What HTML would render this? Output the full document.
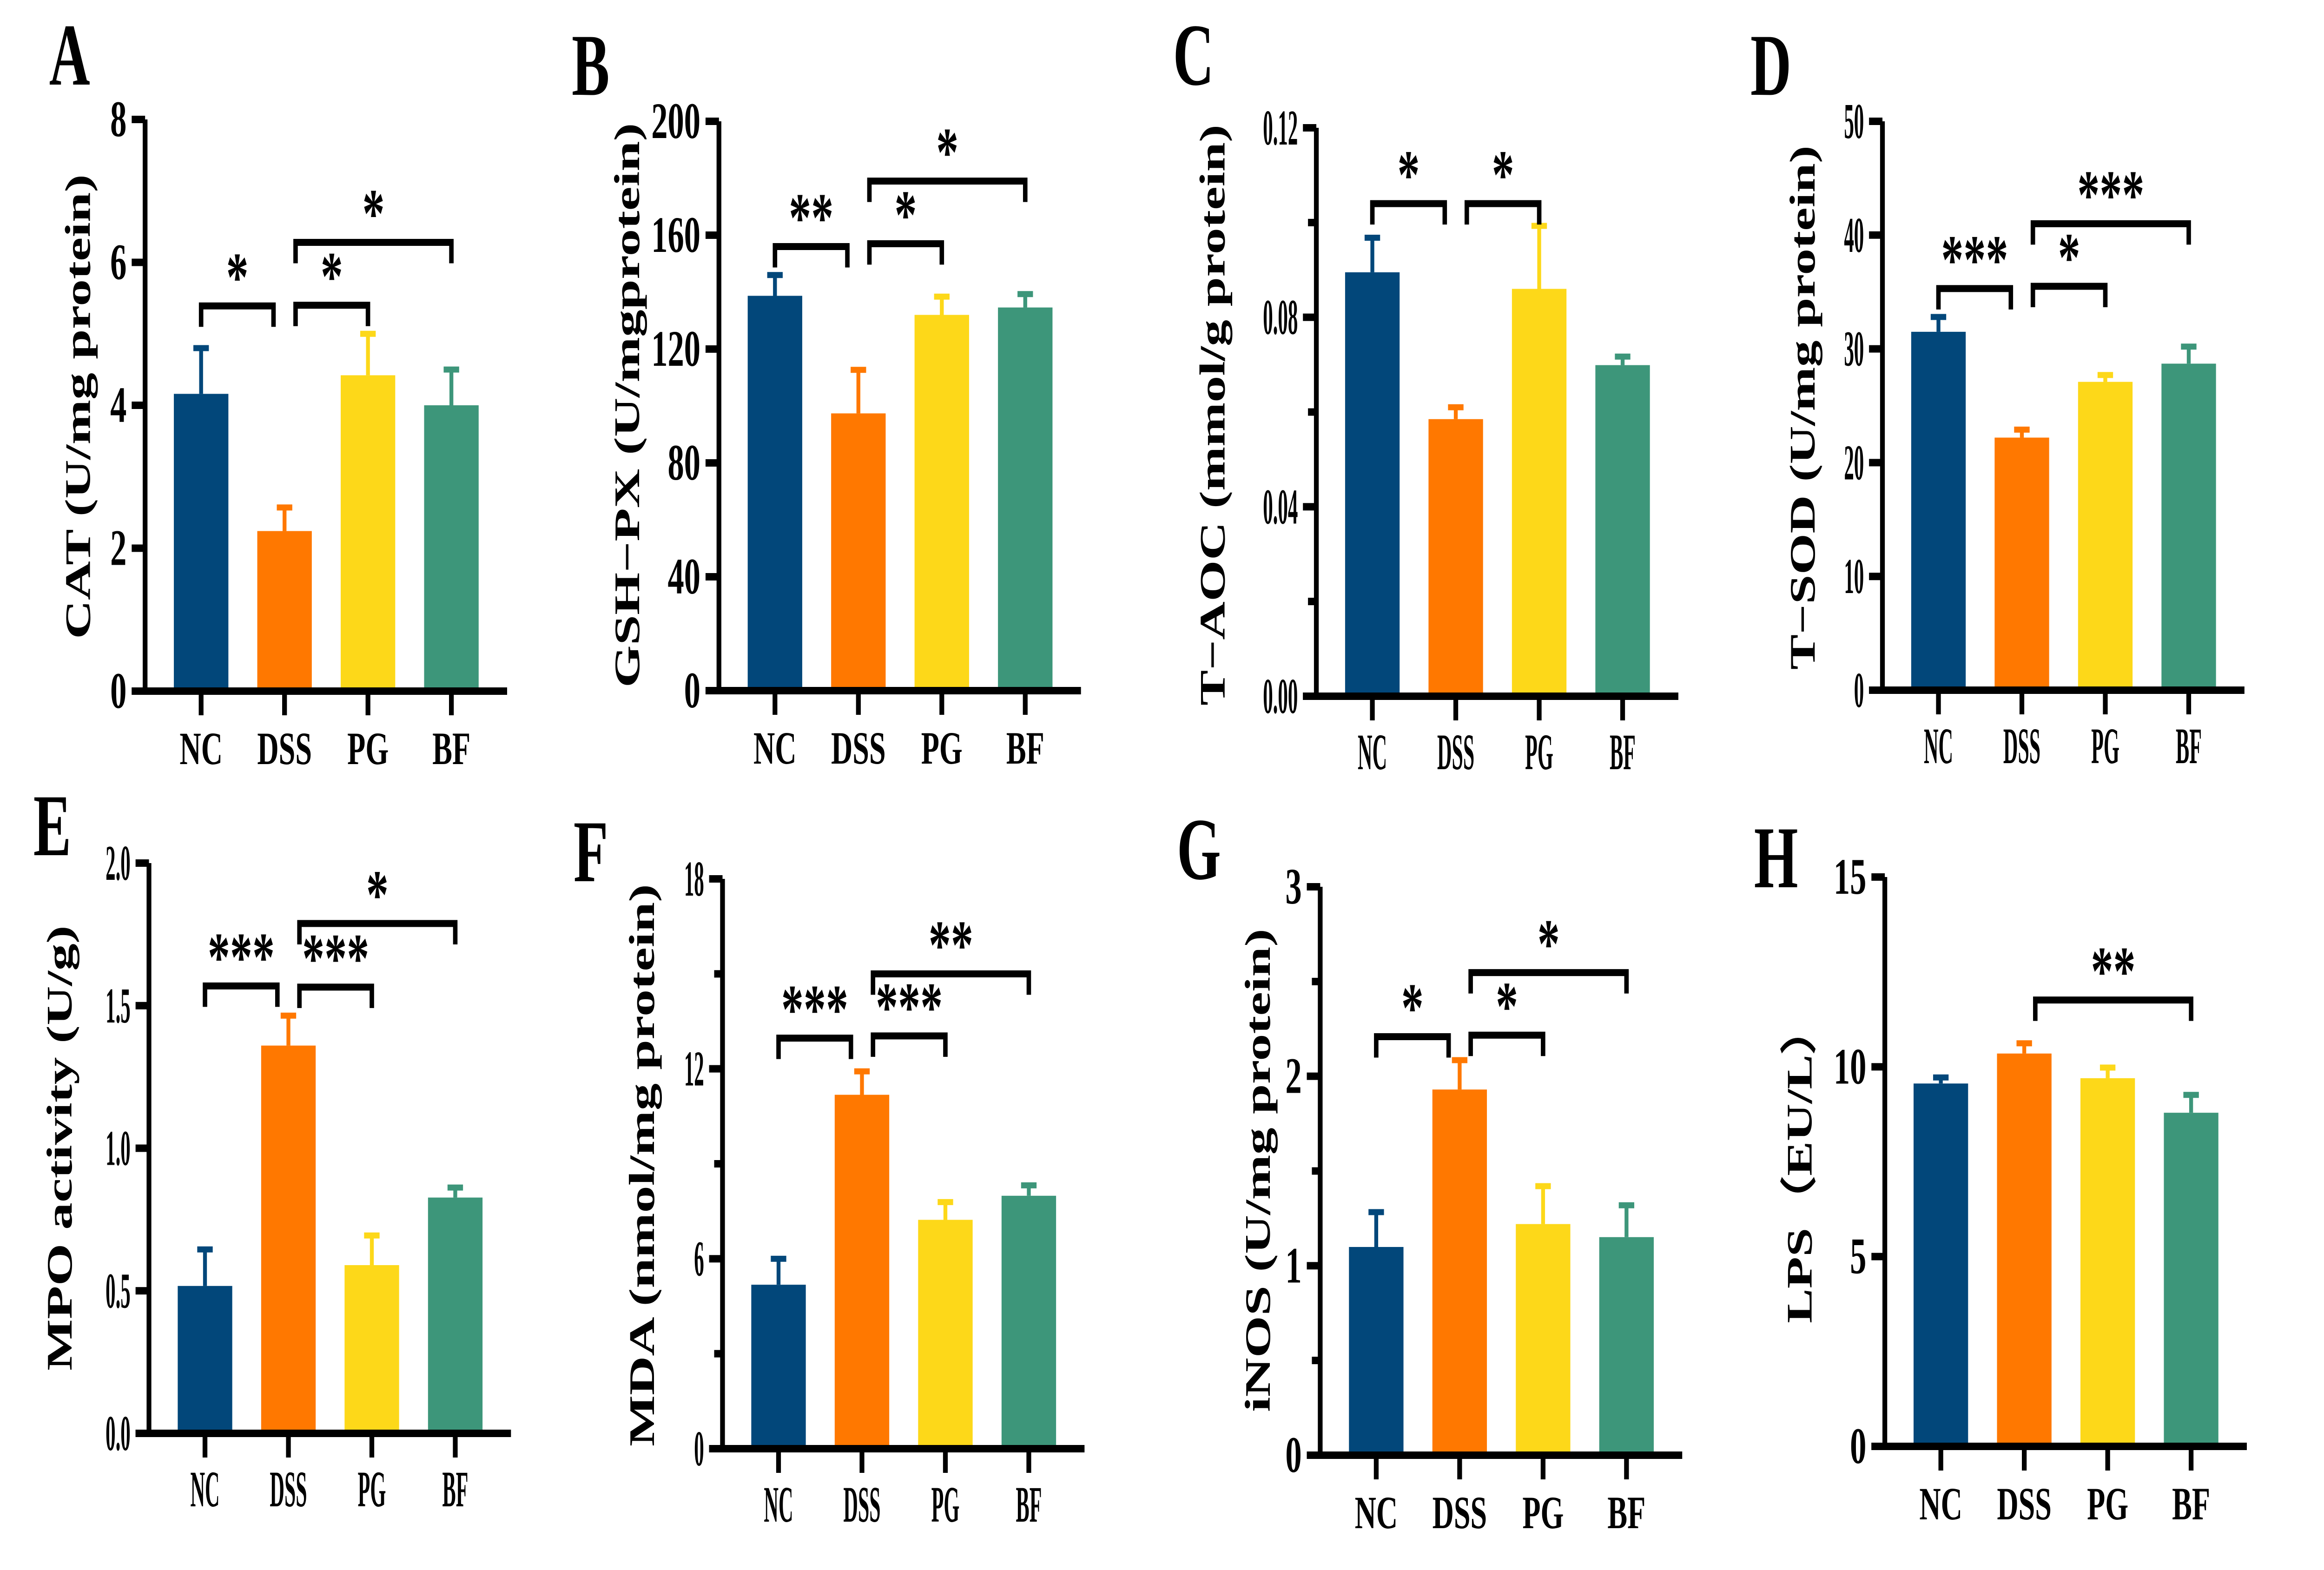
<!DOCTYPE html>
<html><head><meta charset="utf-8"><style>
html,body{margin:0;padding:0;background:#fff;width:100%;height:100%;overflow:hidden;}
svg{display:block;width:100vw;height:100vh;font-family:"Liberation Serif","Times New Roman",serif;font-weight:bold;}
</style></head><body>
<svg id="fig" xmlns="http://www.w3.org/2000/svg" viewBox="0 0 7800 3378" preserveAspectRatio="none"></svg>
<script>
const categories = ["NC","DSS","PG","BF"];
const colors = ["#02477A","#FF7800","#FDD819","#3D967A"];
const meanA=[4.16,2.24,4.42,4.0],   errA=[0.64,0.33,0.58,0.5];
const meanB=[138.7,97.4,132,134.6], errB=[7.3,15.3,6.4,4.7];
const meanC=[0.0895,0.0585,0.086,0.0699], errC=[0.0073,0.0025,0.0133,0.0018];
const meanD=[31.5,22.2,27.1,28.7], errD=[1.3,0.7,0.6,1.5];
const meanE=[0.517,1.36,0.59,0.827], errE=[0.128,0.105,0.104,0.035];
const meanF=[5.18,11.18,7.23,7.99], errF=[0.82,0.74,0.56,0.33];
const meanG=[1.099,1.93,1.22,1.151], errG=[0.184,0.155,0.2,0.168];
const meanH=[9.56,10.35,9.7,8.79], errH=[0.16,0.27,0.28,0.47];
const ticksA=[0,2,4,6,8], ticksB=[0,40,80,120,160,200], ticksC=[0,0.04,0.08,0.12], ticksD=[0,10,20,30,40,50];
const ticksE=[0,0.5,1.0,1.5,2.0], ticksF=[0,6,12,18], ticksG=[0,1,2,3], ticksH=[0,5,10,15];
const tickLabC=["0.00","0.04","0.08","0.12"], tickLabE=["0.0","0.5","1.0","1.5","2.0"];
const minorC=[0.02,0.06,0.10], minorF=[3,9,15], minorG=[0.5,1.5,2.5];
const sigA=[[0,1,5.39,"*"],[1,2,5.4,"*"],[1,3,6.28,"*"]];
const sigB=[[0,1,156,"**"],[1,2,157,"*"],[1,3,179,"*"]];
const sigC=[[0,1,0.104,"*"],[1,2,0.104,"*"]];
const sigD=[[0,1,35.3,"***"],[1,2,35.5,"*"],[1,3,41.0,"***"]];
const sigE=[[0,1,1.569,"***"],[1,2,1.565,"***"],[1,3,1.788,"*"]];
const sigF=[[0,1,12.97,"***"],[1,2,13.04,"***"],[1,3,15.0,"**"]];
const sigG=[[0,1,2.209,"*"],[1,2,2.217,"*"],[1,3,2.547,"*"]];
const sigH=[[1,3,11.76,"**"]];

const panels=[
 {id:"a",L:"A",lx:165,ly:182,ax:487,zero:1487,top:257,max:8,ticks:ticksA,labs:null,minor:[],cond:false,title:"CAT (U/mg protein)",tx:262,ty:875,tl:1000,means:meanA,errs:errA,sig:sigA},
 {id:"b",L:"B",lx:1919,ly:204,ax:2413,zero:1486,top:261,max:200,ticks:ticksB,labs:null,minor:[],cond:false,title:"GSH\u2212PX  (U/mgprotein)",tx:2105,ty:872,tl:1215,means:meanB,errs:errB,sig:sigB},
 {id:"c",L:"C",lx:3937,ly:182,ax:4418,zero:1498,top:275,max:0.12,ticks:ticksC,labs:tickLabC,minor:minorC,cond:true,title:"T\u2212AOC (mmol/g protein)",tx:4070,ty:893,tl:1250,means:meanC,errs:errC,sig:sigC},
 {id:"d",L:"D",lx:5875,ly:204,ax:6318,zero:1485,top:261,max:50,ticks:ticksD,labs:null,minor:[],cond:true,title:"T\u2212SOD (U/mg protein)",tx:6050,ty:877,tl:1128,means:meanD,errs:errD,sig:sigD},
 {id:"e",L:"E",lx:112,ly:1840,ax:500,zero:3084,top:1857,max:2,ticks:ticksE,labs:tickLabE,minor:[],cond:true,title:"MPO activity (U/g)",tx:200,ty:2470,tl:958,means:meanE,errs:errE,sig:sigE},
 {id:"f",L:"F",lx:1925,ly:1896,ax:2425,zero:3117,top:1891,max:18,ticks:ticksF,labs:null,minor:minorF,cond:true,title:"MDA (nmol/mg protein)",tx:2155,ty:2507,tl:1210,means:meanF,errs:errF,sig:sigF},
 {id:"g",L:"G",lx:3950,ly:1891,ax:4431,zero:3131,top:1908,max:3,ticks:ticksG,labs:null,minor:minorG,cond:false,title:"iNOS (U/mg protein)",tx:4222,ty:2518,tl:1040,means:meanG,errs:errG,sig:sigG},
 {id:"h",L:"H",lx:5887,ly:1909,ax:6326,zero:3112,top:1887,max:15,ticks:ticksH,labs:null,minor:[],cond:false,title:"LPS\uFF08EU/L\uFF09",tx:6040,ty:2502,tl:690,means:meanH,errs:errH,sig:sigH}
];
const NS="http://www.w3.org/2000/svg";
const svg=document.getElementById('fig');
function mk(tag,attrs,parent){const e=document.createElementNS(NS,tag);for(const k in attrs)e.setAttribute(k,attrs[k]);parent.appendChild(e);return e;}
function txt(parent,x,y,s,size,anchor,cond){
  const t=mk('text',{x:0,y:0,'font-size':size,'text-anchor':anchor,transform:`translate(${x},${y}) scale(${cond?0.62:1},1)`},parent);
  t.textContent=s;return t;
}
panels.forEach(p=>{
  const g=mk('g',{},svg);
  
  
  const y=v=>p.zero-(v/p.max)*(p.zero-p.top);
  const cx=i=>p.ax+188+i*280;
  const lw=16;
  const letter=txt(g,p.lx,p.ly,p.L,190,'start',false);
  
  
  p.means.forEach((m,i)=>{
    const r=mk('rect',{x:cx(i)-91.5,y:y(m),width:183,height:p.zero-y(m),fill:colors[i]},g);
    
    
    const e=mk('path',{d:`M${cx(i)},${y(m)}V${y(m+p.errs[i])}M${cx(i)-26},${y(m+p.errs[i])}H${cx(i)+26}`,stroke:colors[i],'stroke-width':13,fill:'none'},g);
    
    
  });
  const ya=mk('path',{d:`M${p.ax},${p.top}V${p.zero}`,stroke:'#000','stroke-width':lw,fill:'none'},g);
  
  
  const xa=mk('path',{d:`M${p.ax-45},${p.zero}H${p.ax+1215}`,stroke:'#000','stroke-width':lw,fill:'none'},g);
  
  
  p.ticks.forEach((t,k)=>{
    mk('path',{d:`M${p.ax-45},${y(t)}H${p.ax}`,stroke:'#000','stroke-width':lw},g);
    const lab=p.labs?p.labs[k]:String(t);
    const tl=txt(g,p.ax-62,y(t)+36,lab,p.cond?108:110,'end',p.cond);
    
    
  });
  p.minor.forEach(t=>mk('path',{d:`M${p.ax-28},${y(t)}H${p.ax}`,stroke:'#000','stroke-width':lw},g));
  categories.forEach((c,i)=>{
    mk('path',{d:`M${cx(i)},${p.zero}V${p.zero+52}`,stroke:'#000','stroke-width':lw},g);
    const cl=txt(g,cx(i),p.zero+157,c,p.cond?110:100,'middle',p.cond);
    
    
  });
  const t=mk('text',{x:0,y:0,'font-size':120,'text-anchor':'middle',textLength:p.tl,lengthAdjust:'spacingAndGlyphs',transform:`translate(${p.tx+40},${p.ty}) rotate(-90)`},g);
  t.textContent=p.title;
  
  
  p.sig.forEach(s=>{
    const x1=cx(s[0])+(s[0]===1?37:0), x2=cx(s[1])-(s[1]===1?37:0), yy=y(s[2]);
    const b=mk('path',{d:`M${x1},${yy+45}V${yy}H${x2}V${yy+45}`,stroke:'#000','stroke-width':15,fill:'none'},g);
    
    
    const st=txt(g,(x1+x2)/2,yy-12,s[3],150,'middle',false);
    
    
  });
});
</script>
</body></html>
